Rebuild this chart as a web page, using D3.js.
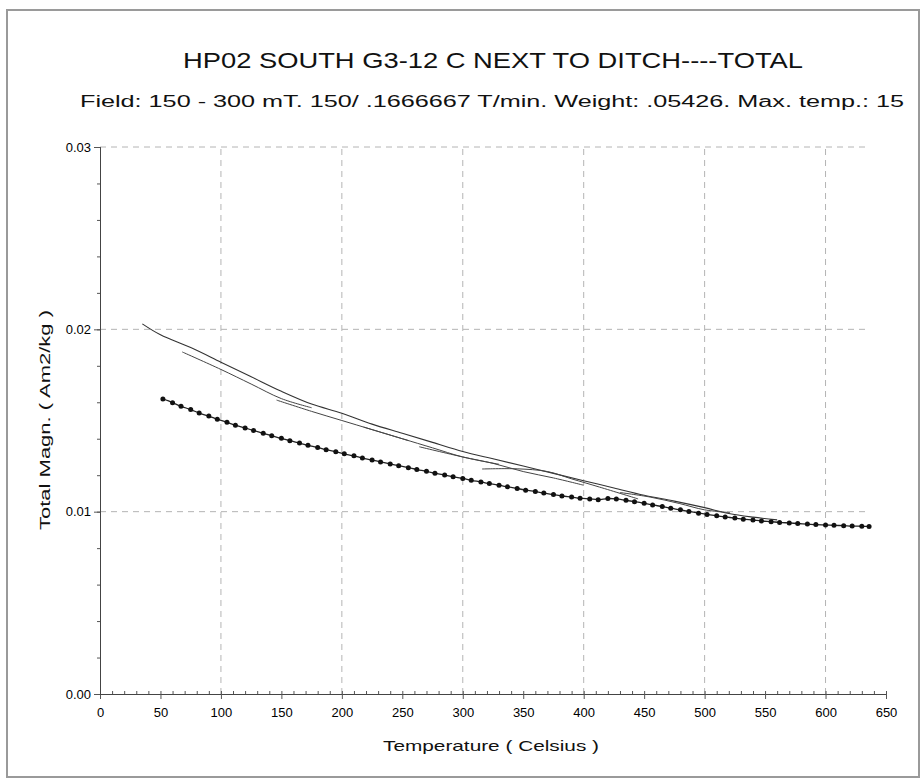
<!DOCTYPE html>
<html>
<head>
<meta charset="utf-8">
<script src="https://cdn.jsdelivr.net/npm/d3@7"></script>
<style>
    body { margin: 0; background: #fff; }
    .lbl { font-family: "Liberation Sans Narrow", "Arial Narrow", "Liberation Sans", sans-serif; fill: #111; }
</style>
</head>
<body>
<div id="chart" style="width:922px;height:782px;"></div>
<script>

// texts
const titleText = "HP02 SOUTH G3-12 C NEXT TO DITCH----TOTAL";
const subTitleText = "Field: 150 - 300 mT. 150/ .1666667 T/min. Weight:  .05426. Max. temp.:  15";
const xLabelText = "Temperature ( Celsius )";
const yLabelText = "Total Magn. ( Am2/kg )";

// ticks
const xTicks = [0, 50, 100, 150, 200, 250, 300, 350, 400, 450, 500, 550, 600, 650];
const xGrid = [100, 200, 300, 400, 500, 600];
const yTicks = [0, 0.01, 0.02, 0.03];
const yGrid = [0.01, 0.02, 0.03];

// heating run (upper solid line), temperature / magnetization
const heatT = [35, 50, 75, 100, 125, 150, 175, 200, 225, 250, 275, 300, 325, 350, 375, 400, 425, 450, 475, 500, 520, 540, 560];
const heatM = [0.0203, 0.0197, 0.0190, 0.0182, 0.0174, 0.0166, 0.0159, 0.0154, 0.0148, 0.0143, 0.0138, 0.0133, 0.0129, 0.0125, 0.0121, 0.0117, 0.0113, 0.0109, 0.01058, 0.01022, 0.0099, 0.0097, 0.00955];

// partial cool-back runs between heating steps
const backRun1 = [[175, 0.0157], [150, 0.0162], [125, 0.0170], [100, 0.0178], [68, 0.01876]];
const backRun2 = [[255, 0.0139], [225, 0.0145], [200, 0.0150], [175, 0.0155], [146, 0.01612]];
const backRun3 = [[330, 0.0126], [300, 0.0130], [275, 0.0135], [250, 0.0140], [218, 0.01464]];
const backRun4 = [[400, 0.01145], [375, 0.01185], [350, 0.0122], [325, 0.01265], [300, 0.0130], [264, 0.01356]];
const backRun5 = [[445, 0.0107], [413, 0.01135], [390, 0.0118], [370, 0.0122], [345, 0.01235], [316, 0.01234]];
const backRun6 = [[521, 0.00995], [500, 0.0101], [479, 0.01045], [455, 0.0108], [430, 0.01105]];
const backRuns = [backRun1, backRun2, backRun3, backRun4, backRun5, backRun6];

// cooling run (dotted line)
const coolT = [52, 60, 67, 75, 82, 90, 97, 105, 112, 120, 127, 135, 142, 150, 157, 165, 172, 180, 187, 195,
    202, 210, 217, 225, 232, 240, 247, 255, 262, 270, 277, 285, 292, 300, 307, 315, 322, 330, 337, 345,
    352, 360, 367, 375, 382, 390, 397, 405, 412, 420, 427, 435, 442, 450, 457, 465, 472, 480, 487, 495,
    502, 510, 517, 525, 532, 540, 547, 555, 562, 570, 577, 585, 592, 600, 607, 615, 622, 630, 636];
const coolM = [0.01618, 0.01598, 0.01578, 0.01560, 0.01541, 0.01524, 0.01507, 0.01490, 0.01474, 0.01459,
    0.01445, 0.01430, 0.01416, 0.01402, 0.01389, 0.01376, 0.01364, 0.01352, 0.01340, 0.01328,
    0.01317, 0.01306, 0.01294, 0.01283, 0.01273, 0.01262, 0.01252, 0.01241, 0.01231, 0.01221,
    0.01211, 0.01201, 0.01191, 0.01182, 0.01172, 0.01163, 0.01154, 0.01145, 0.01136, 0.01127,
    0.01118, 0.01110, 0.01102, 0.01094, 0.01086, 0.01080, 0.01074, 0.01070, 0.01066, 0.01072,
    0.01070, 0.01062, 0.01055, 0.01046, 0.01037, 0.01028, 0.01019, 0.01010, 0.01001, 0.00992,
    0.00985, 0.00977, 0.00971, 0.00965, 0.00959, 0.00954, 0.00949, 0.00945, 0.00941, 0.00938,
    0.00935, 0.00932, 0.00929, 0.00927, 0.00925, 0.00923, 0.00921, 0.00920, 0.00919];


class ThermoVis {
    constructor(parentElement) {
        this.parentElement = parentElement;
        this.initVis();
    }

    initVis() {
        let vis = this;

        vis.width = 922;
        vis.height = 782;

        vis.svg = d3.select(vis.parentElement)
            .append("svg")
            .attr("width", vis.width)
            .attr("height", vis.height);

        // outer frame
        vis.svg.append("rect")
            .attr("x", 7).attr("y", 10)
            .attr("width", 912).attr("height", 767)
            .attr("fill", "none")
            .attr("stroke", "#9a9a9a")
            .attr("stroke-width", 2);

        vis.xScale = d3.scaleLinear()
            .domain([0, 650])
            .range([100, 886]);

        vis.yScale = d3.scaleLinear()
            .domain([0, 0.03])
            .range([694, 147]);

        vis.drawFrame();
        vis.updateVis();
    }

    drawFrame() {
        let vis = this;

        // grid
        vis.svg.selectAll(".vgrid")
            .data(xGrid)
            .enter()
            .append("line")
            .attr("class", "vgrid")
            .attr("x1", d => vis.xScale(d))
            .attr("x2", d => vis.xScale(d))
            .attr("y1", vis.yScale(0))
            .attr("y2", vis.yScale(0.03))
            .attr("stroke", "#b4b4b4")
            .attr("stroke-dasharray", "6,5");

        vis.svg.selectAll(".hgrid")
            .data(yGrid)
            .enter()
            .append("line")
            .attr("class", "hgrid")
            .attr("x1", vis.xScale(0))
            .attr("x2", vis.xScale(636))
            .attr("y1", d => vis.yScale(d))
            .attr("y2", d => vis.yScale(d))
            .attr("stroke", "#b4b4b4")
            .attr("stroke-dasharray", "6,5");

        // axes
        let xAxis = d3.axisBottom(vis.xScale)
            .tickValues(xTicks)
            .tickSize(5)
            .tickPadding(9)
            .tickFormat(d3.format("d"));

        let xMinor = d3.axisBottom(vis.xScale)
            .tickValues(d3.range(0, 651, 10))
            .tickSize(-3)
            .tickFormat("");

        let yAxis = d3.axisLeft(vis.yScale)
            .tickValues(yTicks)
            .tickSize(6)
            .tickPadding(3)
            .tickFormat(d3.format(".2f"));

        let yMinor = d3.axisLeft(vis.yScale)
            .tickValues(d3.range(0, 0.0301, 0.002))
            .tickSize(3)
            .tickFormat("");

        vis.svg.append("g")
            .attr("transform", "translate(0," + vis.yScale(0) + ")")
            .call(xMinor);

        vis.svg.append("g")
            .attr("class", "x-axis")
            .attr("transform", "translate(0," + vis.yScale(0) + ")")
            .call(xAxis)
            .attr("font-size", 13)
            .attr("font-family", "Liberation Sans, sans-serif");

        vis.svg.append("g")
            .attr("transform", "translate(" + vis.xScale(0) + ",0)")
            .call(yMinor);

        vis.svg.append("g")
            .attr("class", "y-axis")
            .attr("transform", "translate(" + vis.xScale(0) + ",0)")
            .call(yAxis)
            .attr("font-size", 13)
            .attr("font-family", "Liberation Sans, sans-serif");

        vis.svg.selectAll(".domain").attr("stroke", "#444");
        vis.svg.selectAll(".tick line").attr("stroke", "#555");
        vis.svg.selectAll(".tick text").attr("fill", "#000");

        // texts
        vis.svg.append("text")
            .attr("class", "lbl")
            .attr("x", 493).attr("y", 68)
            .attr("text-anchor", "middle")
            .attr("textLength", 620)
            .attr("lengthAdjust", "spacingAndGlyphs")
            .style("font-size", "22px")
            .text(titleText);

        vis.svg.append("text")
            .attr("class", "lbl")
            .attr("x", 492).attr("y", 107)
            .attr("text-anchor", "middle")
            .attr("textLength", 824)
            .attr("lengthAdjust", "spacingAndGlyphs")
            .style("font-size", "16px")
            .text(subTitleText);

        vis.svg.append("text")
            .attr("class", "lbl")
            .attr("x", 491).attr("y", 751)
            .attr("text-anchor", "middle")
            .attr("textLength", 216)
            .attr("lengthAdjust", "spacingAndGlyphs")
            .style("font-size", "15px")
            .text(xLabelText);

        vis.svg.append("text")
            .attr("class", "lbl")
            .attr("transform", "translate(50,420) rotate(-90)")
            .attr("text-anchor", "middle")
            .attr("textLength", 220)
            .attr("lengthAdjust", "spacingAndGlyphs")
            .style("font-size", "14px")
            .text(yLabelText);
    }

    updateVis() {
        let vis = this;

        let line = d3.line()
            .curve(d3.curveCatmullRom.alpha(0.5))
            .x(d => vis.xScale(d[0]))
            .y(d => vis.yScale(d[1]));

        let heatData = heatT.map((t, i) => [t, heatM[i]]);
        let coolData = coolT.map((t, i) => [t, coolM[i]]);

        //solid heating steps
        vis.svg.append("path")
            .datum(heatData)
            .attr("d", line)
            .attr("fill", "none")
            .attr("stroke", "#333")
            .attr("stroke-width", 1.1);

        vis.svg.selectAll(".backrun")
            .data(backRuns)
            .enter()
            .append("path")
            .attr("class", "backrun")
            .attr("d", line)
            .attr("fill", "none")
            .attr("stroke", "#444")
            .attr("stroke-width", 1);

        //dotted cooling curve
        vis.svg.append("path")
            .datum(coolData)
            .attr("d", line)
            .attr("fill", "none")
            .attr("stroke", "#222")
            .attr("stroke-width", 1.3);

        vis.svg.selectAll(".cooldot")
            .data(coolData)
            .enter()
            .append("circle")
            .attr("class", "cooldot")
            .attr("cx", d => vis.xScale(d[0]))
            .attr("cy", d => vis.yScale(d[1]))
            .attr("r", 2.5)
            .attr("fill", "#111");
    }
}

new ThermoVis(document.getElementById("chart"));

</script>
</body>
</html>
